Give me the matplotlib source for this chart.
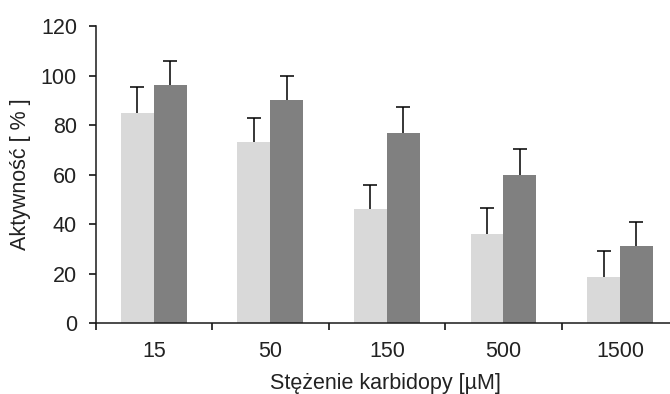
import matplotlib
matplotlib.use("Agg")
import matplotlib.pyplot as plt
import numpy as np

categories = ["15", "50", "150", "500", "1500"]
light_vals = [85, 73, 46, 36, 18.7]
light_err = [10.5, 10, 10, 10.4, 10.5]
dark_vals = [96, 90, 77, 60, 31]
dark_err = [10, 10, 10.5, 10.3, 10]

plt.rcParams['font.family'] = ['Liberation Sans', 'DejaVu Sans']
txt_color = '#222222'
fs = 15.5

fig = plt.figure(figsize=(6.7, 3.94), dpi=100)
ax = fig.add_axes([95.7/670, 70.7/394, 1 - 95.7/670, 297.3/394])

x = np.arange(len(categories))
w = 0.283
ax.bar(x - w/2, light_vals, w, color='#d9d9d9', zorder=2)
ax.bar(x + w/2, dark_vals, w, color='#808080', zorder=2)
for xs, vals, errs in [(x - w/2, light_vals, light_err), (x + w/2, dark_vals, dark_err)]:
    vals = np.array(vals); errs = np.array(errs)
    ax.errorbar(xs, vals, yerr=[np.zeros(len(xs)), errs], fmt='none', ecolor='black',
                elinewidth=1.1, capsize=0, zorder=3)
    ax.plot(xs, vals + errs, linestyle='none', marker='_', markersize=9.4,
            markeredgewidth=1.1, color='black', zorder=3)

ax.set_xlim(-0.5, (670 - 154) / 116.5)
ax.set_ylim(0, 120)
ax.set_yticks(range(0, 121, 20))
ax.set_xticks(np.arange(len(categories)) - 0.5)
ax.set_xticklabels([])
ax.set_xticks(x, minor=True)
ax.set_xticklabels(categories, minor=True)
ax.tick_params(axis='x', which='minor', length=0, pad=12.5, labelsize=fs, labelcolor=txt_color)
ax.tick_params(axis='x', which='major', length=5, width=1.1, direction='out')
ax.tick_params(axis='y', length=5, width=1.1, direction='out', pad=8.5, labelsize=fs, labelcolor=txt_color)

for s in ['top', 'right']:
    ax.spines[s].set_visible(False)
for s in ['left', 'bottom']:
    ax.spines[s].set_linewidth(1.1)
    ax.spines[s].set_color('#1a1a1a')

fig.text(385/670, 1 - 384/394, "Stężenie karbidopy [µM]", ha='center', va='center', fontsize=fs, color=txt_color)
fig.text(21/670, 1 - 174/394, "Aktywność [ % ]", ha='center', va='center', rotation=90, fontsize=fs, color=txt_color)

fig.savefig("out.png", dpi=100)
